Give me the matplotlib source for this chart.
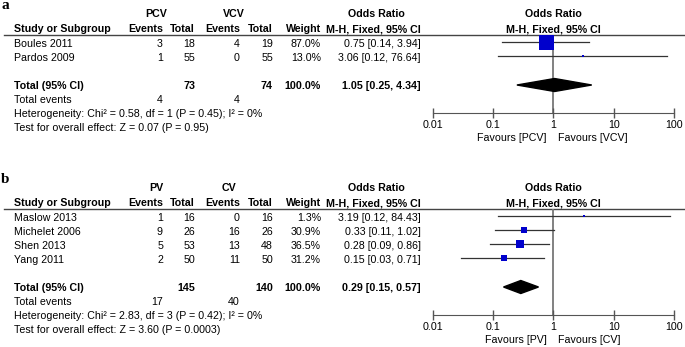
import matplotlib.pyplot as plt

plt.rcParams['font.family'] = ['Liberation Sans', 'DejaVu Sans']

W, H = 685, 347

# panel a data
a_groups = ["PCV", "VCV"]
a_study = ["Boules 2011", "Pardos 2009"]
a_ev1 = [3, 1]
a_n1 = [18, 55]
a_ev2 = [4, 0]
a_n2 = [19, 55]
a_weight = [87.0, 13.0]
a_or = [0.75, 3.06]
a_lo = [0.14, 0.12]
a_hi = [3.94, 76.64]
a_tot = [73, 74, 1.05, 0.25, 4.34]   # n1, n2, OR, lo, hi
a_tot_ev = [4, 4]
a_het = "Heterogeneity: Chi\u00b2 = 0.58, df = 1 (P = 0.45); I\u00b2 = 0%"
a_test = "Test for overall effect: Z = 0.07 (P = 0.95)"

# panel b data
b_groups = ["PV", "CV"]
b_study = ["Maslow 2013", "Michelet 2006", "Shen 2013", "Yang 2011"]
b_ev1 = [1, 9, 5, 2]
b_n1 = [16, 26, 53, 50]
b_ev2 = [0, 16, 13, 11]
b_n2 = [16, 26, 48, 50]
b_weight = [1.3, 30.9, 36.5, 31.2]
b_or = [3.19, 0.33, 0.28, 0.15]
b_lo = [0.12, 0.11, 0.09, 0.03]
b_hi = [84.43, 1.02, 0.86, 0.71]
b_tot = [145, 140, 0.29, 0.15, 0.57]
b_tot_ev = [17, 40]
b_het = "Heterogeneity: Chi\u00b2 = 2.83, df = 3 (P = 0.42); I\u00b2 = 0%"
b_test = "Test for overall effect: Z = 3.60 (P = 0.0003)"

ticks = [0.01, 0.1, 1, 10, 100]
tick_labels = ["0.01", "0.1", "1", "10", "100"]

FS = 7.7
BLUE = "#0000cc"

fig = plt.figure(figsize=(W / 100, H / 100), dpi=100)
ax0 = fig.add_axes([0, 0, 1, 1])
ax0.set_xlim(0, W)
ax0.set_ylim(H, 0)
ax0.axis("off")


def t(x, y, s, ha="left", bold=False, size=FS, **kw):
    ax0.text(x, y, s, ha=ha, va="center", fontsize=size,
             fontweight="bold" if bold else "normal", **kw)


# right edges of the table columns
cols = [163, 195, 240, 273, 321, 421]
fx0, fx1 = 432.5, 674.0


def panel(off, label, groups, study, ev1, n1, ev2, n2, weight, orr, lo, hi,
          tot, tot_ev, het, test, box):
    t(1, 5 + off, label, bold=True, size=11, family="Liberation Serif")
    t(156, 14 + off, groups[0], ha="center", bold=True)
    t(234 if len(groups[1]) > 2 else 229, 14 + off, groups[1], ha="center", bold=True)
    t(376, 14 + off, "Odds Ratio", ha="center", bold=True)
    t(553, 14 + off, "Odds Ratio", ha="center", bold=True)
    t(14, 29 + off, "Study or Subgroup", bold=True)
    for x, s in zip(cols, ["Events", "Total", "Events", "Total", "Weight",
                           "M-H, Fixed, 95% CI"]):
        t(x, 29 + off, s, ha="right", bold=True)
    t(553, 29 + off, "M-H, Fixed, 95% CI", ha="center", bold=True)
    ax0.plot([4, W], [34.5 + off, 34.5 + off], color="#444", lw=1)

    ys = [44 + off + 14 * i for i in range(len(study))]
    for i, y in enumerate(ys):
        t(14, y, study[i])
        vals = [ev1[i], n1[i], ev2[i], n2[i], "%.1f%%" % weight[i],
                "%.2f [%.2f, %.2f]" % (orr[i], lo[i], hi[i])]
        for x, v in zip(cols, vals):
            t(x, y, str(v), ha="right")
    ytot = ys[-1] + 28
    t(14, ytot, "Total (95% CI)", bold=True)
    t(cols[1], ytot, str(tot[0]), ha="right", bold=True)
    t(cols[3], ytot, str(tot[1]), ha="right", bold=True)
    t(cols[4], ytot, "100.0%", ha="right", bold=True)
    t(cols[5], ytot, "%.2f [%.2f, %.2f]" % (tot[2], tot[3], tot[4]), ha="right", bold=True)
    t(14, ytot + 14, "Total events")
    t(cols[0], ytot + 14, str(tot_ev[0]), ha="right")
    t(cols[2], ytot + 14, str(tot_ev[1]), ha="right")
    t(14, ytot + 28, het)
    t(14, ytot + 42, test)

    top, bottom = 34.5 + off, ytot + 27
    ax = fig.add_axes([fx0 / W, 1 - bottom / H, (fx1 - fx0) / W, (bottom - top) / H])
    ax.set_xscale("log")
    ax.set_xlim(0.01, 100)
    ax.set_ylim(bottom, top)
    ax.patch.set_visible(False)
    for s in ["top", "left", "right"]:
        ax.spines[s].set_visible(False)
    ax.spines["bottom"].set_color("#555")
    ax.set_xticks(ticks)
    ax.set_xticklabels(tick_labels)
    ax.minorticks_off()
    ax.set_yticks([])
    ax.tick_params(axis="x", direction="inout", length=7, width=1, color="#555",
                   labelsize=FS, pad=1.5)
    ax.axvline(1, color="#777", lw=1.3, zorder=1)
    for i, y in enumerate(ys):
        ym = y - 2
        ax.plot([lo[i], hi[i]], [ym, ym], color="#333", lw=0.9, zorder=2)
        ax.plot(orr[i], ym, "s", ms=max(2.0, box * weight[i]) * 0.72,
                color=BLUE, mew=0, zorder=3)
    yd = ytot - 1
    ax.fill([tot[3], tot[2], tot[4], tot[2]], [yd, yd - 6.5, yd, yd + 6.5],
            color="black", zorder=3)
    t(553 - 6, bottom + 25, "Favours [%s]" % groups[0], ha="right")
    t(553 + 5, bottom + 25, "Favours [%s]" % groups[1], ha="left")


panel(0, "a", a_groups, a_study, a_ev1, a_n1, a_ev2, a_n2, a_weight, a_or,
      a_lo, a_hi, a_tot, a_tot_ev, a_het, a_test, 15 / 87)
panel(174, "b", b_groups, b_study, b_ev1, b_n1, b_ev2, b_n2, b_weight, b_or,
      b_lo, b_hi, b_tot, b_tot_ev, b_het, b_test, 8 / 36.5)

fig.savefig("out.png", dpi=100)
